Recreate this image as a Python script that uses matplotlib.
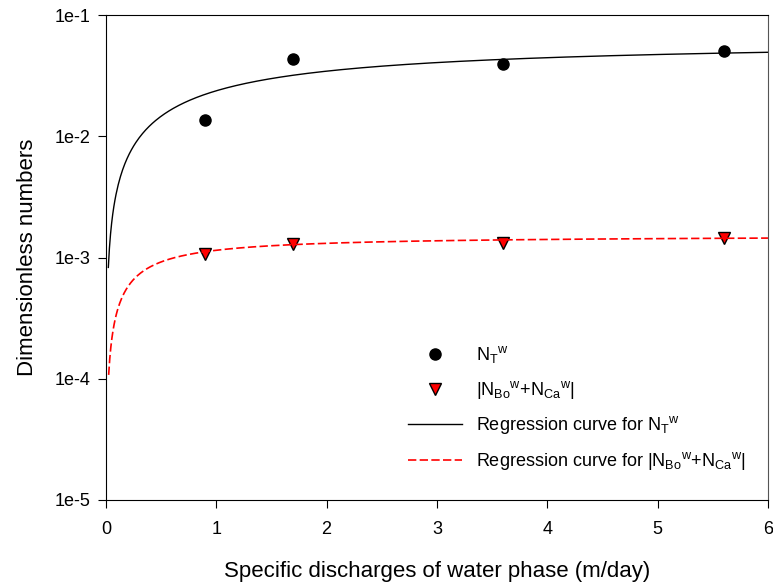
import matplotlib
matplotlib.use("Agg")
import matplotlib.pyplot as plt
import numpy as np

plt.rcParams['font.family'] = ['Liberation Sans', 'DejaVu Sans']
plt.rcParams['mathtext.fontset'] = 'custom'
plt.rcParams['mathtext.rm'] = 'Liberation Sans'

# Data
q = [0.9, 1.7, 3.6, 5.6]
NT = [0.0136, 0.0434, 0.0394, 0.0505]
NBoCa = [0.00107, 0.00129, 0.00131, 0.00144]

# regression curves y = a*x/(b+x), parameters
NT_a, NT_b = 0.063, 1.65
NBoCa_a, NBoCa_b = 0.001527, 0.33
NT_start, NBoCa_start, x_end = 0.022, 0.025, 6.0

y_ticks = [1e-5, 1e-4, 1e-3, 1e-2, 1e-1]
y_labels = ['1e-5', '1e-4', '1e-3', '1e-2', '1e-1']

fig = plt.figure(figsize=(7.73, 5.84), dpi=100)
ax = fig.add_axes([0.137, 0.144, 0.8565, 0.83])

xs1 = np.linspace(NT_start, x_end, 600)
xs2 = np.linspace(NBoCa_start, x_end, 600)
ax.plot(q, NT, 'o', color='black', markersize=8, label=r'$\mathregular{N_{T}{}^{w}}$')
ax.plot(q, NBoCa, 'v', color='red', markeredgecolor='black', markersize=8.5,
        label=r'$\mathregular{|N_{Bo}{}^{w}{+}N_{Ca}{}^{w}|}$')
ax.plot(xs1, NT_a * xs1 / (NT_b + xs1), color='black', lw=1,
        label=r'Regression curve for $\mathregular{N_{T}{}^{w}}$')
ax.plot(xs2, NBoCa_a * xs2 / (NBoCa_b + xs2), color='red', lw=1.2, dashes=(5, 2),
        label=r'Regression curve for $\mathregular{|N_{Bo}{}^{w}{+}N_{Ca}{}^{w}|}$')

ax.set_yscale('log')
ax.set_xlim(0, 6)
ax.set_ylim(1e-5, 1e-1)
ax.set_yticks(y_ticks)
ax.set_yticklabels(y_labels)
ax.minorticks_off()
ax.tick_params(direction='out', length=6, labelsize=13, top=False, right=False)
ax.tick_params(axis='x', pad=9)
ax.tick_params(axis='y', pad=5)
ax.spines['right'].set_color('#555555')

ax.set_xlabel('Specific discharges of water phase (m/day)', fontsize=16, labelpad=17)
ax.set_ylabel('Dimensionless numbers', fontsize=16, labelpad=12)

ax.legend(loc='lower left', bbox_to_anchor=(408 / 773, 1 - 472 / 584),
          bbox_transform=fig.transFigure, frameon=False, fontsize=13,
          handlelength=3.0, handletextpad=0.75, labelspacing=0.75,
          borderpad=0, borderaxespad=0)

fig.savefig('out.png', dpi=100)
